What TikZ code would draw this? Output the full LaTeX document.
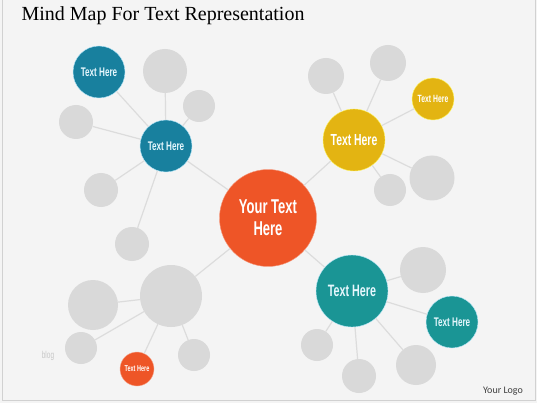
\documentclass[tikz,border=0pt]{standalone}
\usepackage{fontspec}
\setmainfont{Liberation Serif}
\newfontfamily\condfont[FakeStretch=0.65]{Liberation Sans}
\newfontfamily\logofont{Carlito}
\definecolor{mmorange}{HTML}{EE5527}
\definecolor{mmblue}{HTML}{18809E}
\definecolor{mmyellow}{HTML}{E3B412}
\definecolor{mmteal}{HTML}{1A9595}
\definecolor{mmgray}{HTML}{D9D9D9}
\definecolor{mmline}{HTML}{DCDCDC}
\definecolor{mmbg}{HTML}{F4F4F4}
\tikzset{
  bubble/.style={circle, inner sep=0pt, text=white, align=center, font=\condfont\bfseries},
  greybub/.style={circle, fill=mmgray, inner sep=0pt},
  link/.style={draw=mmline, line width=1.2pt}
}

\begin{document}
\begin{tikzpicture}[x=1pt,y=-1pt]
      \fill[mmbg] (0,0) rectangle (537,403);
      \useasboundingbox (0,0) rectangle (537,403);
      \draw[black!18] (2.5,0) -- (2.5,400.5) -- (535,400.5) -- (535,0);
      \node[anchor=base west, font=\fontsize{20}{20}\selectfont] (title) at (18,21) {Mind Map For Text Representation};
      % centre
      \node[bubble, fill=mmorange, draw=mmorange!60!white, minimum size=97pt, font=\condfont\bfseries\fontsize{20}{22}\selectfont] (centre) at (268,218) {Your Text\\Here};
      % upper left group
      \node[bubble, fill=mmblue, draw=cyan!30, minimum size=52pt, text=cyan!10, font=\condfont\bfseries\fontsize{12.5}{14}\selectfont] (blueA) at (99,72) {Text Here};
      \node[bubble, fill=mmblue, draw=cyan!30, minimum size=52pt, text=cyan!10, font=\condfont\bfseries\fontsize{12.5}{14}\selectfont] (blueB) at (166,146) {Text Here};
      \node[greybub, minimum size=44pt] (ulA) at (165,71) {};
      \node[greybub, minimum size=32pt] (ulB) at (199,106) {};
      \node[greybub, minimum size=34pt] (ulC) at (76,122) {};
      \node[greybub, minimum size=34pt] (ulD) at (101,190) {};
      \node[greybub, minimum size=34pt] (ulE) at (132,244) {};
      % upper right group
      \node[bubble, fill=mmyellow, draw=yellow!60!white, minimum size=62pt, font=\condfont\bfseries\fontsize{16}{18}\selectfont] (yelA) at (354,140) {Text Here};
      \node[bubble, fill=mmyellow, draw=yellow!60!white, minimum size=42pt, font=\condfont\bfseries\fontsize{10.5}{12}\selectfont] (yelB) at (433,99) {Text Here};
      \node[greybub, minimum size=36pt] (urA) at (326,76) {};
      \node[greybub, minimum size=36pt] (urB) at (388,63) {};
      \node[greybub, minimum size=45pt] (urC) at (432,178) {};
      \node[greybub, minimum size=32pt] (urD) at (390,190) {};
      % lower left group
      \node[greybub, minimum size=62pt] (llHub) at (171,296) {};
      \node[greybub, minimum size=50pt] (llA) at (93,305) {};
      \node[greybub, minimum size=32pt] (llB) at (81,348) {};
      \node[greybub, minimum size=32pt] (llC) at (194,355) {};
      \node[bubble, fill=mmorange, draw=mmorange!50!white, minimum size=34pt, font=\condfont\bfseries\fontsize{8.5}{10}\selectfont] (orSmall) at (137,369) {Text Here};
      % lower right group
      \node[bubble, fill=mmteal, draw=cyan!25, minimum size=72pt, text=cyan!10, font=\condfont\bfseries\fontsize{16.5}{18}\selectfont] (tealA) at (352,291) {Text Here};
      \node[bubble, fill=mmteal, draw=cyan!25, minimum size=52pt, text=cyan!10, font=\condfont\bfseries\fontsize{12.5}{14}\selectfont] (tealB) at (452,322) {Text Here};
      \node[greybub, minimum size=46pt] (lrA) at (423,270) {};
      \node[greybub, minimum size=32pt] (lrB) at (317,345) {};
      \node[greybub, minimum size=34pt] (lrC) at (359,376) {};
      \node[greybub, minimum size=40pt] (lrD) at (416,365) {};
      % links
      \draw[link] (centre) -- (blueB);
      \draw[link] (centre) -- (yelA);
      \draw[link] (centre) -- (llHub);
      \draw[link] (centre) -- (tealA);
      \draw[link] (blueB) -- (blueA);
      \draw[link] (blueB) -- (ulA);
      \draw[link] (blueB) -- (ulB);
      \draw[link] (blueB) -- (ulC);
      \draw[link] (blueB) -- (ulD);
      \draw[link] (blueB) -- (ulE);
      \draw[link] (yelA) -- (yelB);
      \draw[link] (yelA) -- (urA);
      \draw[link] (yelA) -- (urB);
      \draw[link] (yelA) -- (urC);
      \draw[link] (yelA) -- (urD);
      \draw[link] (llHub) -- (llA);
      \draw[link] (llHub) -- (llB);
      \draw[link] (llHub) -- (llC);
      \draw[link] (llHub) -- (orSmall);
      \draw[link] (tealA) -- (tealB);
      \draw[link] (tealA) -- (lrA);
      \draw[link] (tealA) -- (lrB);
      \draw[link] (tealA) -- (lrC);
      \draw[link] (tealA) -- (lrD);
      % corner texts
      \node[text=black!22, font=\condfont\fontsize{10}{12}\selectfont] (blog) at (48,356) {blog};
      \node[text=black!75, font=\logofont\fontsize{10}{12}\selectfont] (logo) at (503,391) {Your Logo};
    \end{tikzpicture}
\end{document}
